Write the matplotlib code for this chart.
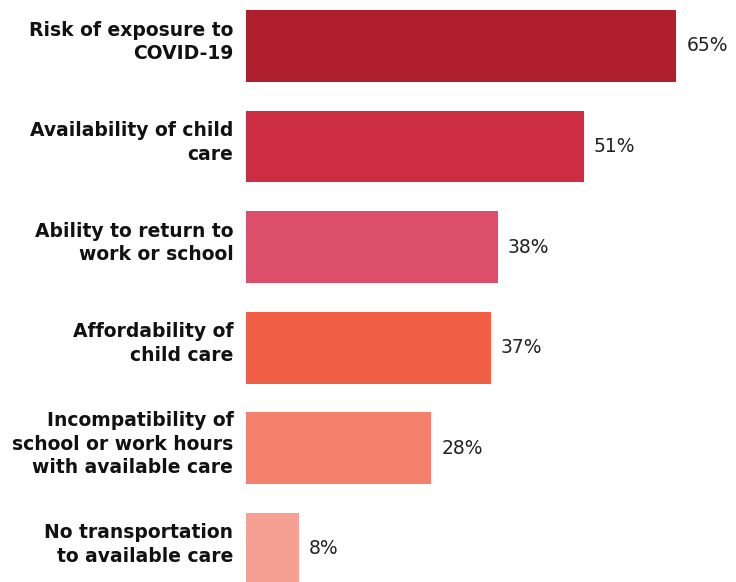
import matplotlib
matplotlib.use("Agg")
import matplotlib.pyplot as plt

labels = ["Risk of exposure to\nCOVID-19",
          "Availability of child\ncare",
          "Ability to return to\nwork or school",
          "Affordability of\nchild care",
          "Incompatibility of\nschool or work hours\nwith available care",
          "No transportation\nto available care"]
values = [65, 51, 38, 37, 28, 8]
colors = ["#B01F2E", "#CC2D43", "#DD4E6A", "#EF5E45", "#F47F6B", "#F4A092"]

plt.rcParams['font.family'] = ['DejaVu Sans']

fig = plt.figure(figsize=(7.36, 5.82), dpi=100)
ax = fig.add_axes([0.334, 0, 0.666, 1])
pos = list(range(len(values)))
ax.barh(pos, values, height=0.715, color=colors)
ax.set_xlim(0, 74)
ax.set_ylim(5.33, -0.457)

for p, v, lab in zip(pos, values, labels):
    ax.text(v + 1.5, p, "%d%%" % v, va="center", ha="left", fontsize=13.5, color="#222222")
    ax.annotate(lab, xy=(0, p), xytext=(-9, 3), textcoords="offset points",
                ha="right", va="center", fontsize=13.5, fontweight="bold",
                color="#111111", linespacing=1.3)

ax.axis("off")
fig.savefig("out.png", dpi=100)
